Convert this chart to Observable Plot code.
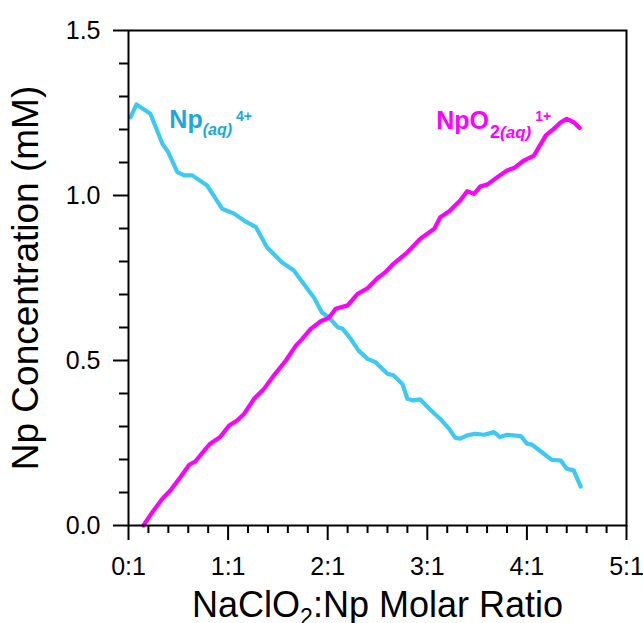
<!DOCTYPE html>
<html><head><meta charset="utf-8">
<script src="https://cdn.jsdelivr.net/npm/d3@7"></script>
<script src="https://cdn.jsdelivr.net/npm/@observablehq/plot@0.6"></script>
<style>
html,body{margin:0;padding:0;background:#fff;color:#000}
#chart svg{font-family:"Liberation Sans",Arial,sans-serif;display:block;background:#fff;color:#000}
</style></head><body><div id="chart"></div>
<script>
// Np(aq)4+ series (blue)
const npX = [0.02,0.08,0.22,0.34,0.40,0.49,0.56,0.64,0.79,0.94,1.06,1.16,1.28,1.39,1.54,1.66,1.76,1.86,1.94,2.01,2.10,2.15,2.23,2.31,2.40,2.48,2.60,2.66,2.75,2.80,2.86,2.93,3.02,3.13,3.22,3.28,3.33,3.40,3.48,3.57,3.67,3.73,3.80,3.94,4.00,4.05,4.15,4.25,4.34,4.40,4.47,4.54];
const npY = [1.237,1.276,1.248,1.157,1.131,1.071,1.061,1.061,1.030,0.960,0.945,0.924,0.904,0.843,0.798,0.773,0.732,0.692,0.646,0.631,0.601,0.596,0.566,0.530,0.505,0.495,0.460,0.455,0.429,0.384,0.379,0.382,0.354,0.323,0.293,0.266,0.263,0.273,0.278,0.275,0.283,0.268,0.275,0.271,0.248,0.245,0.222,0.199,0.197,0.172,0.167,0.118];
// NpO2(aq)1+ series (magenta)
const npo2X = [0.15,0.25,0.34,0.42,0.52,0.61,0.67,0.76,0.82,0.92,1.01,1.09,1.16,1.26,1.36,1.46,1.58,1.68,1.74,1.83,1.93,2.01,2.08,2.20,2.30,2.40,2.51,2.58,2.66,2.80,2.93,3.07,3.13,3.22,3.33,3.40,3.47,3.53,3.60,3.70,3.80,3.87,3.97,4.07,4.19,4.25,4.34,4.40,4.47,4.53];
const npo2Y = [0.0,0.045,0.081,0.106,0.146,0.184,0.194,0.227,0.248,0.268,0.303,0.318,0.338,0.384,0.414,0.455,0.500,0.545,0.564,0.596,0.619,0.629,0.657,0.667,0.702,0.719,0.752,0.768,0.793,0.828,0.869,0.899,0.934,0.952,0.985,1.013,1.005,1.027,1.033,1.055,1.076,1.083,1.106,1.121,1.182,1.197,1.222,1.232,1.222,1.205];

const seriesNames = ["Np", "NpO2"];
const xTicks = [0,1,2,3,4,5];
const xTickLabels = ["0:1","1:1","2:1","3:1","4:1","5:1"];
const xMinorTicks = [0.2,0.4,0.6,0.8,1.2,1.4,1.6,1.8,2.2,2.4,2.6,2.8,3.2,3.4,3.6,3.8,4.2,4.4,4.6,4.8];
const yTicks = [0,0.5,1.0,1.5];
const yTickLabels = ["0.0","0.5","1.0","1.5"];
const yMinorTicks = [0.1,0.2,0.3,0.4,0.6,0.7,0.8,0.9,1.1,1.2,1.3,1.4];

const xTitleParts = ["NaClO","2",":Np Molar Ratio"];
const yTitle = "Np Concentration (mM)";
const npLabelParts = ["Np","(aq)","4+"];
const npo2LabelParts = ["NpO","2","(aq)","1+"];
const labelX = [0.41, 3.09];
const labelY = [1.206, 1.203];

const lineColors = {Np: "#3cc9f2", NpO2: "#ff00ff"};
const textColors = {Np: "#1ba8dc", NpO2: "#ff00ff"};

const lineData = [
  ...npX.map((x,i)=>({series: seriesNames[0], x, y: npY[i]})),
  ...npo2X.map((x,i)=>({series: seriesNames[1], x, y: npo2Y[i]}))
];
const labelData = seriesNames.map((s,i)=>({series: s, x: labelX[i], y: labelY[i],
  text: i === 0 ? npLabelParts[0] : npo2LabelParts[0]}));

const chart = Plot.plot({
  width: 643, height: 623,
  marginLeft: 128, marginRight: 17, marginTop: 30, marginBottom: 98,
  x: {domain: [0,5]},
  y: {domain: [0,1.5]},
  marks: [
    Plot.axisX(xMinorTicks, {tickSize: 8, stroke: "black", strokeWidth: 2, tickFormat: () => "", label: null}),
    Plot.axisX(xTicks, {tickSize: 15, stroke: "black", fill: "black", strokeWidth: 2, tickPadding: 17, fontSize: 25,
      tickFormat: d => xTickLabels[xTicks.indexOf(d)],
      label: xTitleParts.join(""), labelAnchor: "center", labelOffset: 91, labelArrow: false}),
    Plot.axisY(yMinorTicks, {tickSize: 9, stroke: "black", strokeWidth: 2, tickFormat: () => "", label: null}),
    Plot.axisY(yTicks, {tickSize: 15, stroke: "black", fill: "black", strokeWidth: 2, tickPadding: 13, fontSize: 25,
      tickFormat: d => yTickLabels[yTicks.indexOf(d)],
      label: yTitle, labelAnchor: "center", labelOffset: 117, labelArrow: false}),
    Plot.line(lineData, {x: "x", y: "y", z: "series", stroke: d => lineColors[d.series],
      strokeWidth: 4.2, strokeLinejoin: "round"}),
    Plot.text(labelData, {x: "x", y: "y", text: "text", fill: d => textColors[d.series],
      fontSize: 25, fontWeight: "bold", textAnchor: "start", lineAnchor: "bottom"}),
    Plot.frame({stroke: "black", strokeWidth: 2})
  ]
});

document.getElementById("chart").appendChild(chart);

// Rich text (subscripts / superscripts)
const labelTexts = chart.querySelectorAll('g[aria-label="text"] text');
if (labelTexts[0]) {
  const t = d3.select(labelTexts[0]);
  t.text(null);
  t.append("tspan").text(npLabelParts[0]);
  t.append("tspan").attr("font-size", 16).attr("font-style", "italic").attr("dy", 7).text(npLabelParts[1]);
  t.append("tspan").attr("font-size", 14).attr("dx", 4).attr("dy", -14).text(npLabelParts[2]);
}
if (labelTexts[1]) {
  const t = d3.select(labelTexts[1]);
  t.text(null);
  t.append("tspan").text(npo2LabelParts[0]);
  t.append("tspan").attr("font-size", 18).attr("dx", 1).attr("dy", 9).text(npo2LabelParts[1]);
  t.append("tspan").attr("font-size", 17).attr("font-style", "italic").text(npo2LabelParts[2]);
  t.append("tspan").attr("font-size", 14).attr("dx", 4).attr("dy", -17).text(npo2LabelParts[3]);
}
const gx = chart.querySelector('g[aria-label="x-axis label"]');
if (gx) {
  gx.setAttribute("font-size", 36);
  const t = d3.select(gx.querySelector("text"));
  t.text(null);
  t.append("tspan").text(xTitleParts[0]);
  t.append("tspan").attr("font-size", 23).attr("dy", 8).text(xTitleParts[1]);
  t.append("tspan").attr("dy", -8).text(xTitleParts[2]);
}
const gy = chart.querySelector('g[aria-label="y-axis label"]');
if (gy) gy.setAttribute("font-size", 37);
</script>
</body></html>
